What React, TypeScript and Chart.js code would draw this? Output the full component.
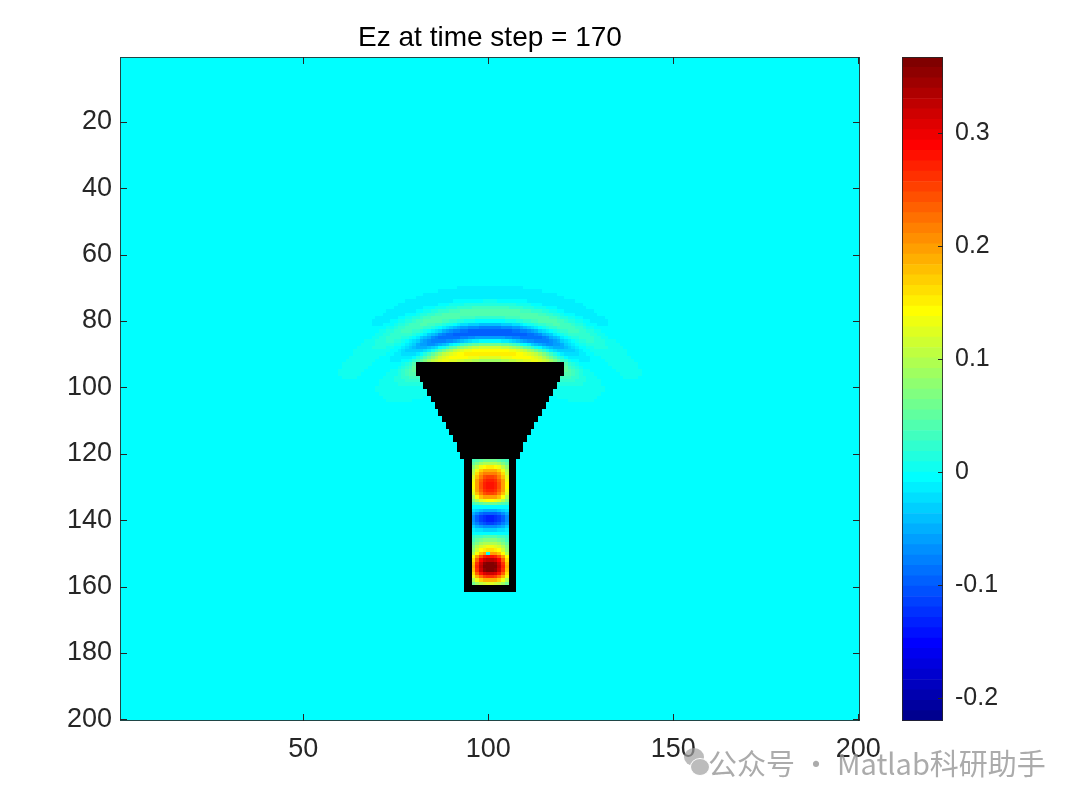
import React, { useEffect, useRef } from 'react';
import { Chart, registerables } from 'chart.js';

Chart.register(...registerables);

const FONT = '"Liberation Sans", Arial, Helvetica, sans-serif';

// ---------------- data ----------------
const gridCols = 200;
const gridRows = 200;
const xTickValues = [50, 100, 150, 200];
const yTickValues = [20, 40, 60, 80, 100, 120, 140, 160, 180, 200];
const colorTickValues = [-0.2, -0.1, 0, 0.1, 0.2, 0.3];
const colorMin = -0.22;
const colorMax = 0.367;
const colorLevels = 64;
const titleText = 'Ez at time step = 170';

// horn (black, solid): left-most column for each row from hornTopRow
const hornTopRow = 93;
const hornLeftCols = [81, 81, 81, 81, 82, 82, 83, 83, 84, 84, 85, 85, 86, 86, 87, 87, 88, 88, 89, 89, 90, 90, 91, 91, 92, 92, 92, 93, 93];

// waveguide (black walls) and its interior field
const guideTopRow = 122;
const guideBottomRow = 161;
const guideOuterCols = [94, 107];
const guideWallCells = 2;
// Ez along the waveguide axis, rows 122..159
const guideCenterValues = [0.06, 0.10, 0.15, 0.19, 0.22, 0.25, 0.27, 0.28, 0.28, 0.27, 0.25, 0.20, 0.14, 0.06, 0.00, -0.05, -0.10, -0.13, -0.13, -0.11, -0.07, -0.03, 0.00, 0.04, 0.07, 0.10, 0.13, 0.16, 0.20, 0.28, 0.33, 0.36, 0.37, 0.36, 0.32, 0.26, 0.19, 0.12];
// relative field across the interior columns 96..105
const guideCrossFactors = [0.5, 0.72, 0.88, 0.97, 1, 1, 0.97, 0.88, 0.72, 0.5];
const sourceCell = [100, 150];

// radiated wave fronts above the horn mouth
const waveOrigin = [100.5, 128];
const ringRadii = [38.5, 44.5, 50.5, 56.5];
const ringPeaks = [0.152, -0.105, 0.045, -0.018];
const ringWidths = [3.3, 2.9, 2.7, 2.7];
const ringSpreads = [30, 27, 34, 38];

// ---------------- helpers ----------------
function jetColormap(m: number): number[][] {
  const n = Math.ceil(m / 4);
  const u: number[] = [];
  for (let i = 1; i <= n; i++) u.push(i / n);
  for (let i = 1; i < n; i++) u.push(1);
  for (let i = n; i >= 1; i--) u.push(i / n);
  const g0 = Math.ceil(n / 2) - (m % 4 === 1 ? 1 : 0);
  const map = Array.from({ length: m }, () => [0, 0, 0]);
  u.forEach((val, k) => {
    const g = g0 + k + 1;
    const r = g + n;
    const b = g - n;
    if (g >= 1 && g <= m) map[g - 1][1] = val;
    if (r >= 1 && r <= m) map[r - 1][0] = val;
    if (b >= 1 && b <= m) map[b - 1][2] = val;
  });
  return map;
}

const JET = jetColormap(colorLevels);

function colorIndex(v: number): number {
  let idx = Math.floor(((v - colorMin) / (colorMax - colorMin)) * colorLevels);
  if (idx < 0) idx = 0;
  if (idx > colorLevels - 1) idx = colorLevels - 1;
  return idx;
}

function rgbOf(idx: number): string {
  const c = JET[idx];
  return `rgb(${Math.round(c[0] * 255)},${Math.round(c[1] * 255)},${Math.round(c[2] * 255)})`;
}

function isMasked(col: number, row: number): boolean {
  const hi = row - hornTopRow;
  if (hi >= 0 && hi < hornLeftCols.length) {
    const left = hornLeftCols[hi];
    const right = gridCols + 1 - left;
    if (col >= left && col <= right) return true;
  }
  if (row >= guideTopRow && row <= guideBottomRow && col >= guideOuterCols[0] && col <= guideOuterCols[1]) {
    if (col < guideOuterCols[0] + guideWallCells) return true;
    if (col > guideOuterCols[1] - guideWallCells) return true;
    if (row > guideBottomRow - guideWallCells) return true;
  }
  return false;
}

function fieldAt(col: number, row: number): number {
  if (row >= guideTopRow && row <= guideBottomRow && col >= guideOuterCols[0] && col <= guideOuterCols[1]) {
    if (col === sourceCell[0] && row === sourceCell[1]) return 0;
    const ri = row - guideTopRow;
    const ci = col - (guideOuterCols[0] + guideWallCells);
    const cv = guideCenterValues[ri] ?? 0;
    const cf = guideCrossFactors[ci] ?? 0;
    return cv * cf;
  }
  const dx = col - waveOrigin[0];
  const dy = waveOrigin[1] - row;
  const rad = Math.sqrt(dx * dx + dy * dy);
  const theta = (Math.atan2(Math.abs(dx), dy) * 180) / Math.PI;
  let v = 0;
  for (let k = 0; k < ringRadii.length; k++) {
    const radial = Math.exp(-Math.pow((rad - ringRadii[k]) / ringWidths[k], 2));
    const ang = 0.9 * Math.exp(-Math.pow(theta / ringSpreads[k], 4)) + 0.1 * Math.exp(-Math.pow(theta / 40, 8));
    v += ringPeaks[k] * radial * ang;
  }
  return v;
}

function buildFieldImage(): HTMLCanvasElement {
  const off = document.createElement('canvas');
  off.width = gridCols;
  off.height = gridRows;
  const octx = off.getContext('2d')!;
  const img = octx.createImageData(gridCols, gridRows);
  for (let row = 1; row <= gridRows; row++) {
    for (let col = 1; col <= gridCols; col++) {
      const p = ((row - 1) * gridCols + (col - 1)) * 4;
      if (isMasked(col, row)) {
        img.data[p] = 0; img.data[p + 1] = 0; img.data[p + 2] = 0; img.data[p + 3] = 255;
      } else {
        const c = JET[colorIndex(fieldAt(col, row))];
        img.data[p] = Math.round(c[0] * 255);
        img.data[p + 1] = Math.round(c[1] * 255);
        img.data[p + 2] = Math.round(c[2] * 255);
        img.data[p + 3] = 255;
      }
    }
  }
  octx.putImageData(img, 0, 0);
  return off;
}

const TICK_COLOR = '#262626';
const FRAME_COLOR = 'rgba(38,38,38,0.85)';

export default function App() {
  const mainRef = useRef<HTMLCanvasElement | null>(null);
  const barRef = useRef<HTMLCanvasElement | null>(null);

  useEffect(() => {
    if (!mainRef.current || !barRef.current) return;
    const fieldImage = buildFieldImage();

    const heatPlugin = {
      id: 'heatImage',
      beforeDatasetsDraw(chart: any) {
        const { ctx } = chart;
        const xs = chart.scales.x;
        const ys = chart.scales.y;
        const x0 = xs.getPixelForValue(0.5);
        const x1 = xs.getPixelForValue(gridCols + 0.5);
        const yA = ys.getPixelForValue(0.5);
        const yB = ys.getPixelForValue(gridRows + 0.5);
        ctx.save();
        ctx.imageSmoothingEnabled = false;
        ctx.drawImage(fieldImage, x0, Math.min(yA, yB), x1 - x0, Math.abs(yB - yA));
        ctx.restore();
      },
      afterDraw(chart: any) {
        const { ctx, chartArea: a } = chart;
        const xs = chart.scales.x;
        const ys = chart.scales.y;
        const tl = 7;
        ctx.save();
        ctx.strokeStyle = TICK_COLOR;
        ctx.lineWidth = 1;
        ctx.beginPath();
        xTickValues.forEach((v) => {
          const px = Math.round(xs.getPixelForValue(v)) + 0.5;
          ctx.moveTo(px, a.bottom); ctx.lineTo(px, a.bottom - tl);
          ctx.moveTo(px, a.top); ctx.lineTo(px, a.top + tl);
        });
        yTickValues.forEach((v) => {
          const py = Math.round(ys.getPixelForValue(v)) + 0.5;
          ctx.moveTo(a.left, py); ctx.lineTo(a.left + tl, py);
          ctx.moveTo(a.right, py); ctx.lineTo(a.right - tl, py);
        });
        ctx.stroke();
        ctx.strokeStyle = FRAME_COLOR;
        ctx.strokeRect(a.left + 0.5, a.top + 0.5, a.right - a.left - 1, a.bottom - a.top - 1);
        ctx.restore();
      },
    };

    const main = new Chart(mainRef.current, {
      type: 'scatter',
      data: { datasets: [{ data: [] }] },
      options: {
        responsive: false,
        animation: false,
        events: [],
        layout: { padding: { left: 0, right: 220, top: 0, bottom: 0 } },
        plugins: {
          legend: { display: false },
          tooltip: { enabled: false },
          title: {
            display: true,
            text: titleText,
            fullSize: false,
            color: '#000000',
            font: { family: FONT, size: 28, weight: 'normal' },
            padding: { top: 21, bottom: 2.4 },
          },
        },
        scales: {
          x: {
            type: 'linear',
            min: 0.5,
            max: gridCols + 0.5,
            afterBuildTicks: (s: any) => { s.ticks = xTickValues.map((v) => ({ value: v })); },
            afterFit: (s: any) => { s.height = 82; },
            grid: { display: false, drawTicks: false },
            border: { display: false },
            ticks: {
              color: TICK_COLOR,
              font: { family: FONT, size: 27 },
              padding: 12,
              maxRotation: 0,
              autoSkip: false,
              callback: (v: any) => `${v}`,
            },
          },
          y: {
            type: 'linear',
            reverse: true,
            min: 0.5,
            max: gridRows + 0.5,
            afterBuildTicks: (s: any) => { s.ticks = yTickValues.map((v) => ({ value: v })); },
            afterFit: (s: any) => { s.width = 120; },
            grid: { display: false, drawTicks: false },
            border: { display: false },
            ticks: {
              color: TICK_COLOR,
              font: { family: FONT, size: 27 },
              padding: 8,
              autoSkip: false,
              callback: (v: any) => `${v}`,
            },
          },
        },
      },
      plugins: [heatPlugin],
    } as any);

    const step = (colorMax - colorMin) / colorLevels;
    const bandDatasets = Array.from({ length: colorLevels }, (_, k) => ({
      data: [[colorMin + k * step, colorMin + (k + 1) * step]],
      backgroundColor: rgbOf(k),
      borderWidth: 0,
      grouped: false,
      barPercentage: 1,
      categoryPercentage: 1,
    }));

    const barFrame = {
      id: 'barFrame',
      afterDraw(chart: any) {
        const { ctx, chartArea: a } = chart;
        const ys = chart.scales.y;
        ctx.save();
        ctx.strokeStyle = TICK_COLOR;
        ctx.lineWidth = 1;
        ctx.beginPath();
        colorTickValues.forEach((v) => {
          const py = Math.round(ys.getPixelForValue(v)) + 0.5;
          ctx.moveTo(a.right, py); ctx.lineTo(a.right - 5, py);
        });
        ctx.stroke();
        ctx.strokeStyle = FRAME_COLOR;
        ctx.strokeRect(a.left + 0.5, a.top + 0.5, a.right - a.left - 1, a.bottom - a.top - 1);
        ctx.restore();
      },
    };

    const bar = new Chart(barRef.current, {
      type: 'bar',
      data: { labels: ['Ez'], datasets: bandDatasets },
      options: {
        responsive: false,
        animation: false,
        events: [],
        layout: { padding: { left: 902, right: 0, top: 57, bottom: 82 } },
        plugins: { legend: { display: false }, tooltip: { enabled: false }, title: { display: false } },
        scales: {
          x: { display: false },
          y: {
            position: 'right',
            min: colorMin,
            max: colorMax,
            afterBuildTicks: (s: any) => { s.ticks = colorTickValues.map((v) => ({ value: v })); },
            afterFit: (s: any) => { s.width = 137; },
            grid: { display: false, drawTicks: false },
            border: { display: false },
            ticks: {
              color: TICK_COLOR,
              font: { family: FONT, size: 25 },
              padding: 12,
              autoSkip: false,
              callback: (v: any) => Number(v).toFixed(1).replace(/^(-?)0\.0$/, '0').replace(/^-0$/, '0'),
            },
          },
        },
      },
      plugins: [barFrame],
    } as any);

    return () => {
      main.destroy();
      bar.destroy();
    };
  }, []);

  return (
    <div style={{ position: 'absolute', left: 0, top: 0, width: 1080, height: 803, background: '#ffffff', overflow: 'hidden' }}>
      <canvas ref={mainRef} width={1080} height={803} style={{ position: 'absolute', left: 0, top: 0, display: 'block' }} />
      <canvas ref={barRef} width={1080} height={803} style={{ position: 'absolute', left: 0, top: 0, display: 'block' }} />
      <div
        style={{
          position: 'absolute',
          left: 684,
          top: 742,
          height: 40,
          display: 'flex',
          alignItems: 'center',
          gap: 0,
          color: 'rgba(150,150,150,0.8)',
          fontFamily: '"Noto Sans CJK SC", sans-serif',
          fontSize: 29,
          lineHeight: '40px',
          whiteSpace: 'nowrap',
          pointerEvents: 'none',
        }}
      >
        <div style={{ position: 'relative', width: 24, height: 38, opacity: 0.7 }}>
          <div style={{ position: 'absolute', left: 0, top: 5, width: 20, height: 18, borderRadius: '50%', background: '#a0a0a0' }} />
          <div style={{ position: 'absolute', left: 6, top: 15, width: 18, height: 16, borderRadius: '50%', background: '#a0a0a0', border: '1.5px solid #ffffff' }} />
        </div>
        <span>公众号 · Matlab科研助手</span>
      </div>
    </div>
  );
}
